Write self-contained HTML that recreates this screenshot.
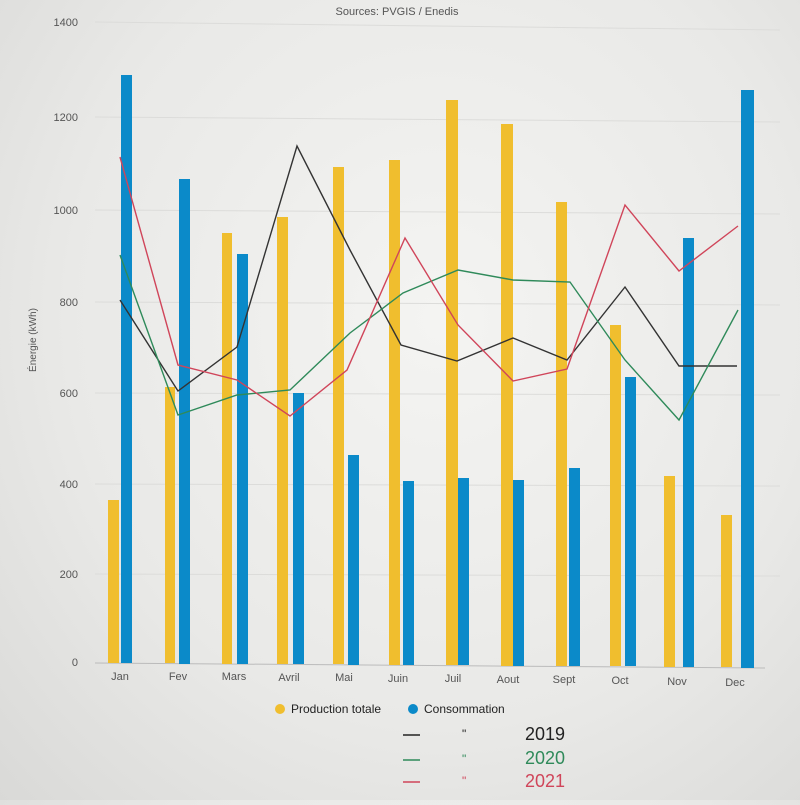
<!DOCTYPE html>
<html><head><meta charset="utf-8"><style>
body{margin:0;width:800px;height:800px;overflow:hidden;background:radial-gradient(ellipse at 55% 40%,#f4f4f2 0%,#e9e9e7 60%,#d9d9d7 100%);font-family:"Liberation Sans",sans-serif}
</style></head><body>
<svg width="800" height="800" xmlns="http://www.w3.org/2000/svg" font-family="Liberation Sans, sans-serif">
<text x="397" y="15" font-size="11" fill="#555" text-anchor="middle">Sources: PVGIS / Enedis</text>
<g stroke="#dcdcda" stroke-width="1">
<line x1="95" y1="22" x2="780" y2="30"/><line x1="95" y1="117" x2="780" y2="122"/><line x1="95" y1="210" x2="780" y2="214"/><line x1="95" y1="302" x2="780" y2="305"/><line x1="95" y1="393" x2="780" y2="395"/><line x1="95" y1="484" x2="780" y2="486"/><line x1="95" y1="574" x2="780" y2="576"/>
</g>
<line x1="95" y1="663" x2="765" y2="668" stroke="#bbb"/>
<g font-size="11" fill="#555" text-anchor="end">
<text x="78" y="26">1400</text><text x="78" y="121">1200</text><text x="78" y="214">1000</text><text x="78" y="306">800</text><text x="78" y="397">600</text><text x="78" y="488">400</text><text x="78" y="578">200</text><text x="78" y="666">0</text>
</g>
<text transform="translate(36,340) rotate(-90)" font-size="10" fill="#555" text-anchor="middle">Énergie (kWh)</text>
<g fill="#f0be2e">
<rect x="108" y="500" width="11" height="163"/><rect x="165" y="387" width="10" height="276"/><rect x="222" y="233" width="10" height="431"/><rect x="277" y="217" width="11" height="447"/><rect x="333" y="167" width="11" height="497"/><rect x="389" y="160" width="11" height="505"/><rect x="446" y="100" width="12" height="565"/><rect x="501" y="124" width="12" height="542"/><rect x="556" y="202" width="11" height="464"/><rect x="610" y="325" width="11" height="341"/><rect x="664" y="476" width="11" height="191"/><rect x="721" y="515" width="11" height="152"/>
</g>
<g fill="#0b8ac9">
<rect x="121" y="75" width="11" height="588"/><rect x="179" y="179" width="11" height="485"/><rect x="237" y="254" width="11" height="410"/><rect x="293" y="393" width="11" height="271"/><rect x="348" y="455" width="11" height="210"/><rect x="403" y="481" width="11" height="184"/><rect x="458" y="478" width="11" height="187"/><rect x="513" y="480" width="11" height="186"/><rect x="569" y="468" width="11" height="198"/><rect x="625" y="377" width="11" height="289"/><rect x="683" y="238" width="11" height="429"/><rect x="741" y="90" width="13" height="578"/>
</g>
<g font-size="11" fill="#555" text-anchor="middle">
<text x="120" y="680">Jan</text><text x="178" y="680">Fev</text><text x="234" y="680">Mars</text><text x="289" y="681">Avril</text><text x="344" y="681">Mai</text><text x="398" y="682">Juin</text><text x="453" y="682">Juil</text><text x="508" y="683">Aout</text><text x="564" y="683">Sept</text><text x="620" y="684">Oct</text><text x="677" y="685">Nov</text><text x="735" y="686">Dec</text>
</g>
<polyline fill="none" stroke="#333" stroke-width="1.4" points="120,300 178,391 237,347 297,146 350,250 401,345 457,361 513,338 567,360 625,287 679,366 737,366"/>
<polyline fill="none" stroke="#2f8a5a" stroke-width="1.4" points="120,255 178,415 237,395 290,390 350,333 403,293 458,270 513,280 570,282 625,360 679,420 738,310"/>
<polyline fill="none" stroke="#d0455a" stroke-width="1.4" points="120,157 178,365 237,380 290,416 347,370 405,238 458,325 513,381 567,369 625,205 679,271 738,226"/>
<circle cx="280" cy="709" r="5" fill="#f0be2e"/><text x="291" y="713" font-size="12" fill="#222">Production totale</text>
<circle cx="413" cy="709" r="5" fill="#0b8ac9"/><text x="424" y="713" font-size="12" fill="#222">Consommation</text>
<g font-size="18" font-family="Liberation Sans, sans-serif">
<line x1="403" y1="735" x2="420" y2="735" stroke="#222" stroke-width="1.5"/><text x="462" y="738" fill="#222" font-size="12">"</text><text x="525" y="740" fill="#222">2019</text>
<line x1="403" y1="760" x2="420" y2="760" stroke="#2f8a5a" stroke-width="1.5"/><text x="462" y="763" fill="#2f8a5a" font-size="12">"</text><text x="525" y="764" fill="#2f8a5a">2020</text>
<line x1="403" y1="782" x2="420" y2="782" stroke="#d0455a" stroke-width="1.5"/><text x="462" y="785" fill="#d0455a" font-size="12">"</text><text x="525" y="787" fill="#d0455a">2021</text>
</g>
</svg>
</body></html>
